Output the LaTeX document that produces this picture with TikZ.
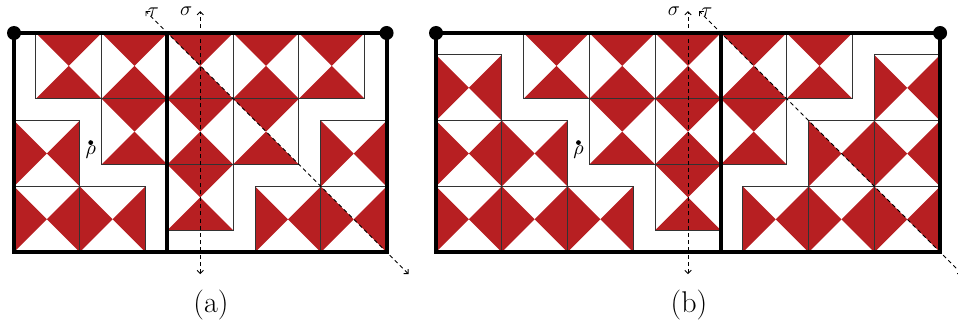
\documentclass[tikz,border=0pt]{standalone}
\usetikzlibrary{arrows.meta}
\definecolor{tred}{RGB}{183,31,34}
\tikzset{
  tileline/.style={draw=black!80, line width=0.5pt},
  frameline/.style={draw=black, line width=2pt},
  cornerdot/.style={fill=black},
  axisline/.style={draw=black, line width=0.45pt, dash pattern=on 2pt off 1.6pt,
    {Straight Barb[length=1.6pt,width=3.2pt]}-{Straight Barb[length=1.6pt,width=3.2pt]}},
  axislabel/.style={inner sep=0pt},
  caplabel/.style={inner sep=0pt, font=\fontsize{15}{18}\selectfont},
}
\newcommand{\vtile}[2]{%
  \fill[tred] ({#1/3},{#2/3}) -- ++(1,0) -- ++(-0.5,0.5) -- cycle;
  \fill[tred] ({#1/3},{#2/3+1}) -- ++(1,0) -- ++(-0.5,-0.5) -- cycle;
  \draw[tileline] ({#1/3},{#2/3}) rectangle ++(1,1);}
\newcommand{\htile}[2]{%
  \fill[tred] ({#1/3},{#2/3}) -- ++(0,1) -- ++(0.5,-0.5) -- cycle;
  \fill[tred] ({#1/3+1},{#2/3}) -- ++(0,1) -- ++(-0.5,-0.5) -- cycle;
  \draw[tileline] ({#1/3},{#2/3}) rectangle ++(1,1);}
\begin{document}
\begin{tikzpicture}[x=32.875pt,y=-32.875pt]
\useasboundingbox (0pt,0pt) rectangle (479pt,-163pt);
% ---------------- panel (a)
\begin{scope}[shift={(7pt,-16.5pt)}]
  \foreach \a/\b in {1/0,4/0,4/3,7/0,10/0,13/0,7/3,10/3,7/6} {\vtile{\a}{\b}}
  \foreach \a/\b in {0/4,0/7,3/7,14/4,14/7,11/7} {\htile{\a}{\b}}
  \draw[frameline] (0,0) rectangle (17/3,10/3);
  \draw[frameline] (7/3,0) -- (7/3,10/3);
  \fill[cornerdot] (0,0) circle[radius=3.5pt];
  \fill[cornerdot] (17/3,0) circle[radius=3.5pt];
  \coordinate (sa1) at (17/6,-1/3);
  \coordinate (sa2) at (17/6,11/3);
  \coordinate (ta1) at (2,-1/3);
  \coordinate (ta2) at (6,11/3);
  \draw[axisline] (sa2) -- (sa1);
  \draw[axisline] (ta2) -- (ta1);
  \node[axislabel, anchor=east, xshift=-3.8pt] (siga) at (sa1) {$\sigma$};
  \node[axislabel, anchor=west, xshift=1pt, yshift=-0.5pt] (taua) at (ta1) {$\tau$};
  \coordinate (ca) at (7/6,5/3);
  \fill (ca) circle[radius=1.2pt];
  \node[axislabel, anchor=north, yshift=-1.6pt] (rhoa) at (ca) {$\rho$};
\end{scope}
% ---------------- panel (b)
\begin{scope}[shift={(218pt,-16.5pt)}]
  \foreach \a/\b in {4/0,7/0,10/0,7/3,10/3,10/6,13/0,16/0,13/3} {\vtile{\a}{\b}}
  \foreach \a/\b in {0/1,0/4,3/4,0/7,3/7,6/7,20/1,20/4,17/4,14/7,17/7,20/7} {\htile{\a}{\b}}
  \draw[frameline] (0,0) rectangle (23/3,10/3);
  \draw[frameline] (13/3,0) -- (13/3,10/3);
  \fill[cornerdot] (0,0) circle[radius=3.5pt];
  \fill[cornerdot] (23/3,0) circle[radius=3.5pt];
  \coordinate (sb1) at (23/6,-1/3);
  \coordinate (sb2) at (23/6,11/3);
  \coordinate (tb1) at (4,-1/3);
  \coordinate (tb2) at (8,11/3);
  \draw[axisline] (sb2) -- (sb1);
  \draw[axisline] (tb2) -- (tb1);
  \node[axislabel, anchor=east, xshift=-3.8pt] (sigb) at (sb1) {$\sigma$};
  \node[axislabel, anchor=west, xshift=1pt, yshift=-0.5pt] (taub) at (tb1) {$\tau$};
  \coordinate (cb) at (13/6,5/3);
  \fill (cb) circle[radius=1.2pt];
  \node[axislabel, anchor=north, yshift=-1.6pt] (rhob) at (cb) {$\rho$};
\end{scope}
% ---------------- captions
\node[caplabel] (capa) at (105.5pt,-152.5pt) {(a)};
\node[caplabel] (capb) at (344.5pt,-152.5pt) {(b)};
\end{tikzpicture}
\end{document}
